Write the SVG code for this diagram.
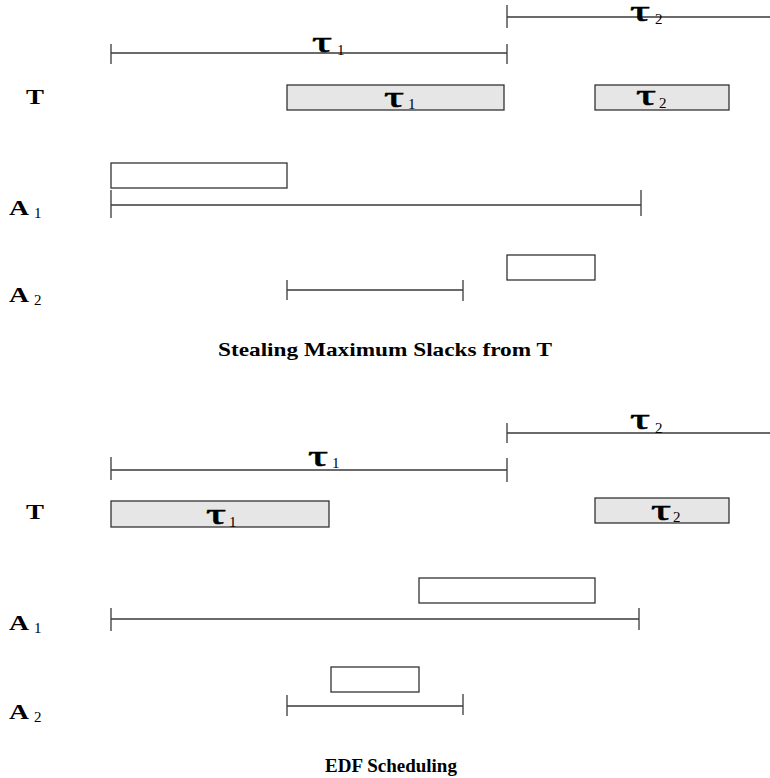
<svg xmlns="http://www.w3.org/2000/svg" width="770" height="778" viewBox="0 0 770 778">
  <style>
    text { font-family: "Liberation Serif", "Times New Roman", serif; fill: #000; }
    .ln { stroke: #3a3a3a; stroke-width: 1.3; fill: none; }
    .task { fill: #e6e6e6; stroke: #333; stroke-width: 1.3; }
    .slot { fill: #fff; stroke: #333; stroke-width: 1.3; }
    .tau { font-size: 29px; stroke: #000; stroke-width: 0.6; }
    .sub { font-size: 15px; }
    .lbl { font-size: 20px; font-weight: bold; }
    .title { font-size: 19px; font-weight: bold; text-anchor: middle; }
  </style>
  <rect width="770" height="778" fill="#fff"/>

  <!-- Panel 1: stealing maximum slacks -->
  <g id="p1-connectors">
    <path class="ln" d="M507 5V28 M507 17H770"/>
    <path class="ln" d="M111 44V64 M507 44V64 M111 53H507"/>
    <path class="ln" d="M111 190V218 M641 190V216 M111 205H641"/>
    <path class="ln" d="M287 280V300 M463 280V301 M287 290H463"/>
  </g>
  <g id="p1-period2"><text class="tau" x="630" y="21" textLength="20" lengthAdjust="spacingAndGlyphs">τ</text><text class="sub" x="655" y="24">2</text></g>
  <g id="p1-period1"><text class="tau" x="312" y="52" textLength="20" lengthAdjust="spacingAndGlyphs">τ</text><text class="sub" x="337" y="55">1</text></g>
  <g id="p1-T"><text class="lbl" x="26" y="104" textLength="18" lengthAdjust="spacingAndGlyphs">T</text></g>
  <g id="p1-task1"><rect class="task" x="287" y="85" width="217" height="25"/><text class="tau" x="384" y="107" textLength="20" lengthAdjust="spacingAndGlyphs">τ</text><text class="sub" x="408" y="109">1</text></g>
  <g id="p1-task2"><rect class="task" x="595" y="85" width="134" height="25"/><text class="tau" x="636" y="105" textLength="20" lengthAdjust="spacingAndGlyphs">τ</text><text class="sub" x="659" y="108">2</text></g>
  <g id="p1-A1"><text class="lbl" x="9" y="215" textLength="20" lengthAdjust="spacingAndGlyphs">A</text><text class="sub" x="34" y="218">1</text></g>
  <g id="p1-A1-slot"><rect class="slot" x="111" y="163" width="176" height="25"/></g>
  <g id="p1-A2"><text class="lbl" x="9" y="302" textLength="20" lengthAdjust="spacingAndGlyphs">A</text><text class="sub" x="34" y="305">2</text></g>
  <g id="p1-A2-slot"><rect class="slot" x="507" y="255" width="88" height="25"/></g>
  <g id="p1-title"><text class="title" x="385" y="356" textLength="334" lengthAdjust="spacingAndGlyphs">Stealing Maximum Slacks from T</text></g>

  <!-- Panel 2: EDF scheduling -->
  <g id="p2-connectors">
    <path class="ln" d="M507 423V443 M507 433H770"/>
    <path class="ln" d="M111 457V480 M507 458V482 M111 470H507"/>
    <path class="ln" d="M111 608V631 M639 608V630 M111 619H639"/>
    <path class="ln" d="M287 695V716 M463 694V715 M287 706H463"/>
  </g>
  <g id="p2-period2"><text class="tau" x="630" y="429" textLength="20" lengthAdjust="spacingAndGlyphs">τ</text><text class="sub" x="655" y="433">2</text></g>
  <g id="p2-period1"><text class="tau" x="308" y="466" textLength="20" lengthAdjust="spacingAndGlyphs">τ</text><text class="sub" x="332" y="468">1</text></g>
  <g id="p2-T"><text class="lbl" x="26" y="519" textLength="18" lengthAdjust="spacingAndGlyphs">T</text></g>
  <g id="p2-task1"><rect class="task" x="111" y="501" width="218" height="26"/><text class="tau" x="206" y="524" textLength="20" lengthAdjust="spacingAndGlyphs">τ</text><text class="sub" x="229" y="527">1</text></g>
  <g id="p2-task2"><rect class="task" x="595" y="498" width="134" height="25"/><text class="tau" x="651" y="520" textLength="20" lengthAdjust="spacingAndGlyphs">τ</text><text class="sub" x="673" y="522">2</text></g>
  <g id="p2-A1"><text class="lbl" x="9" y="630" textLength="20" lengthAdjust="spacingAndGlyphs">A</text><text class="sub" x="34" y="633">1</text></g>
  <g id="p2-A1-slot"><rect class="slot" x="419" y="578" width="176" height="25"/></g>
  <g id="p2-A2"><text class="lbl" x="9" y="719" textLength="20" lengthAdjust="spacingAndGlyphs">A</text><text class="sub" x="34" y="722">2</text></g>
  <g id="p2-A2-slot"><rect class="slot" x="331" y="667" width="88" height="25"/></g>
  <g id="p2-title"><text class="title" x="391" y="772">EDF Scheduling</text></g>
</svg>
